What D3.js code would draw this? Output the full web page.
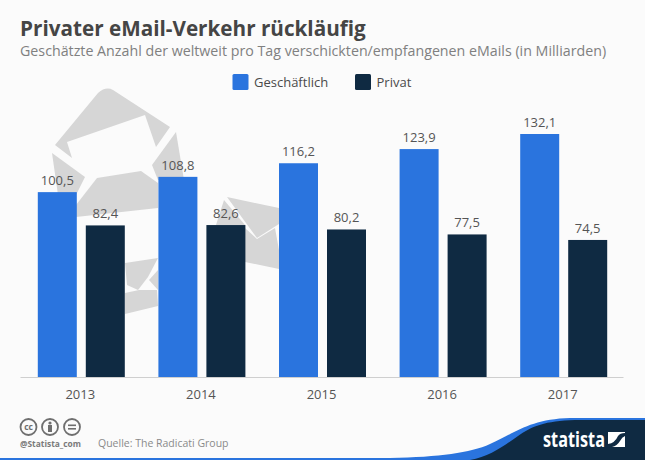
<!DOCTYPE html>
<html>
<head>
<meta charset="utf-8">
<script src="https://cdn.jsdelivr.net/npm/d3@7"></script>
<style>
html,body{margin:0;padding:0;background:#fbfbfb;}
svg{display:block;font-family:"Open Sans",sans-serif;}
</style>
</head>
<body>
<svg id="chart" width="645" height="460"></svg>
<script>
var years = ["2013","2014","2015","2016","2017"];
var seriesNames = ["Geschäftlich","Privat"];
var business = [100.5,108.8,116.2,123.9,132.1];
var personal = [82.4,82.6,80.2,77.5,74.5];
var colors = ["#2a74de","#0f2a42"];

var svg = d3.select("#chart");
var deLabel = function(v){ return v.toFixed(1).replace(".",","); };

svg.append("rect").attr("width",645).attr("height",460).attr("fill","#fbfbfb");

//background envelopes
var envelopes = [
  "M55,145 L98,93 Q106,86 113,90 L170,127 L156,147 L145,115 L67,142 L72,158 Z",
  "M52,153 L85,177 L76,195 L58,195 Z",
  "M176,132 L184,180 L158,180 L152,165 Z",
  "M97,178 L141,171 L158,183 L158,208 L76,217 L76,205 Z",
  "M125,263 L158,258 L148,277 L138,290 L127,285 Z",
  "M149,280 L158,270 L158,290 Z",
  "M125,293 L139,290 L157,290 L158,306 L125,314 Z",
  "M227,197 L279,208 L279,224 L257,238 Z",
  "M224,200 L216,225 L245,225 Z",
  "M245,228 L257,239 L275,228 L279,250 L279,269 L245,262 Z"
];
svg.append("g").selectAll("path").data(envelopes).enter().append("path")
  .attr("d",function(d){return d;})
  .attr("fill","#d6d6d6");

//title block
svg.append("text").attr("x",20).attr("y",35.5).attr("font-size",20.7).attr("font-weight",700)
  .attr("fill","#454545").text("Privater eMail-Verkehr rückläufig");
svg.append("text").attr("x",20).attr("y",56).attr("font-size",14.24)
  .attr("fill","#808080").text("Geschätzte Anzahl der weltweit pro Tag verschickten/empfangenen eMails (in Milliarden)");

//legend
var legendX = [232.5,355];
var legend = svg.append("g").selectAll("g").data(seriesNames).enter().append("g")
  .attr("transform",function(d,i){return "translate("+legendX[i]+",74)";});
legend.append("rect").attr("width",16).attr("height",16).attr("rx",1.5)
  .attr("fill",function(d,i){return colors[i];});
legend.append("text").attr("x",21.5).attr("y",13).attr("font-size",13)
  .attr("fill","#4a4a4a").text(function(d){return d;});

//scales
var x0 = d3.scaleBand().domain(years).range([20,623]);
var y = d3.scaleLinear().domain([0,132.1]).range([377,134]);
var offsets = [-42.5,5.5];
var barWidth = 39;

var axisG = svg.append("g").attr("transform","translate(0,377)")
  .call(d3.axisBottom(x0).tickSize(0).tickPadding(12.5));
axisG.select(".domain").attr("stroke","#cfcfcf").attr("stroke-width",1);
axisG.selectAll("text").attr("font-size",13).attr("fill","#555555")
  .attr("font-family","'Open Sans',sans-serif");

[business,personal].forEach(function(values,s){
  var g = svg.append("g");
  g.selectAll("rect").data(values).enter().append("rect")
    .attr("x",function(d,i){return x0(years[i])+x0.bandwidth()/2+offsets[s];})
    .attr("y",function(d){return y(d);})
    .attr("width",barWidth)
    .attr("height",function(d){return y(0)-y(d);})
    .attr("fill",colors[s]);
  g.selectAll("text").data(values).enter().append("text")
    .attr("x",function(d,i){return x0(years[i])+x0.bandwidth()/2+offsets[s]+barWidth/2;})
    .attr("y",function(d){return y(d)-7;})
    .attr("text-anchor","middle").attr("font-size",13).attr("fill","#555555")
    .text(deLabel);
});

//cc icons
var icons = svg.append("g").attr("fill","none").attr("stroke","#6f6f6f").attr("stroke-width",1.8);
[28.5,50,72].forEach(function(cx){
  icons.append("circle").attr("cx",cx).attr("cy",427).attr("r",8);
});
svg.append("text").attr("x",28.5).attr("y",430).attr("text-anchor","middle").attr("font-size",8.5)
  .attr("font-weight",700).attr("fill","#6f6f6f").text("cc");
svg.append("circle").attr("cx",50).attr("cy",423).attr("r",1.6).attr("fill","#6f6f6f");
svg.append("rect").attr("x",48).attr("y",425).attr("width",4).attr("height",7).attr("fill","#6f6f6f");
svg.append("rect").attr("x",68).attr("y",424.5).attr("width",8).attr("height",1.6).attr("fill","#6f6f6f");
svg.append("rect").attr("x",68).attr("y",428).attr("width",8).attr("height",1.6).attr("fill","#6f6f6f");
svg.append("text").attr("x",20).attr("y",447).attr("font-size",8.4).attr("font-weight",700)
  .attr("fill","#7a7a7a").text("@Statista_com");
svg.append("text").attr("x",98).attr("y",447).attr("font-size",10.5).attr("fill","#8a8a8a")
  .text("Quelle: The Radicati Group");

//footer band
svg.append("path")
  .attr("d","M0,458 L390,458 C440,457 470,453 490,444 C515,433 530,419 570,418 L645,418 L645,460 L0,460 Z")
  .attr("fill","#2a74de");
svg.append("path")
  .attr("d","M470,460 C490,457 505,445 518,436 C532,426 545,421 575,420 L645,420 L645,460 Z")
  .attr("fill","#0f2a42");
svg.append("text").attr("x",543).attr("y",447).attr("font-size",21).attr("font-weight",700)
  .attr("fill","#ffffff").attr("textLength",62).attr("lengthAdjust","spacingAndGlyphs")
  .attr("font-family","'Open Sans',sans-serif").text("statista");
svg.append("rect").attr("x",608).attr("y",432).attr("width",17).attr("height",15).attr("fill","#ffffff");
svg.append("path").attr("d","M608,447 L608,444 Q615,443 618,436 Q620,433 625,433 L625,436 Q622,437 620,441 Q617,446 612,447 Z").attr("fill","#0f2a42");
</script>
</body>
</html>
